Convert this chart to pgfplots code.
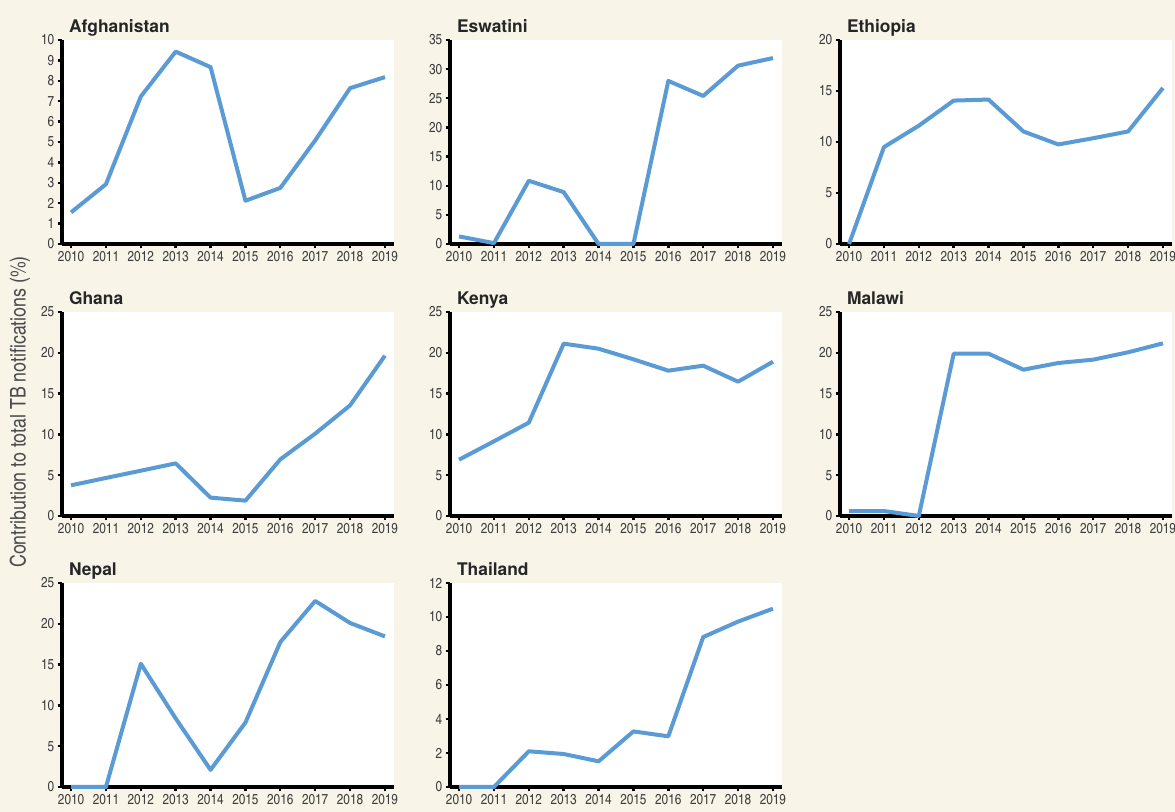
\documentclass[border=0pt]{standalone}
\usepackage{pgfplots}
\pgfplotsset{compat=1.18}
\usepackage{fontspec}
\setmainfont{TeX Gyre Heros}
\newfontfamily\cn{TeX Gyre Heros Cn}

\definecolor{bg}{HTML}{F8F4E8}
\definecolor{tbblue}{HTML}{5B9BD5}
\definecolor{tickgray}{HTML}{3C3C3C}

\pgfplotsset{
  panel/.style={
    scale only axis, width=166pt, height=102pt,
    anchor=north west,
    axis x line*=bottom, axis y line*=left,
    axis line style={line width=1.6pt, black},
    axis background/.style={fill=white},
    xmin=2009.74, xmax=2019.26, ymin=0,
    xtick={2010,...,2019},
    tick align=outside, major tick length=2.2pt,
    tick style={line width=1.2pt, black},
    ticklabel style={font=\cn\fontsize{7.2}{8}\selectfont, text=tickgray, inner sep=1.5pt},
    xticklabel style={/pgf/number format/1000 sep={}},
    /pgf/number format/assume math mode=true,
    title style={font=\bfseries\fontsize{8.7}{10}\selectfont, text=black!85,
      anchor=base west, at={(0,1)}, xshift=0pt, yshift=-2.5pt},
    clip=false,
  },
  tb/.style={line width=2pt, color=tbblue, line join=round, mark=none},
}

\begin{document}
\begin{tikzpicture}
\fill[bg] (0,0) rectangle (587.5pt,-406pt);

% row 1
\begin{axis}[panel, at={(31pt,-20pt)}, title=Afghanistan, ymax=10, ytick={0,...,10}]
\addplot[tb] coordinates {(2010,1.55) (2011,2.93) (2012,7.23) (2013,9.43) (2014,8.67) (2015,2.12) (2016,2.75) (2017,5.08) (2018,7.64) (2019,8.18)};
\end{axis}
\begin{axis}[panel, at={(225pt,-20pt)}, title=Eswatini, ymax=35, ytick={0,5,...,35}]
\addplot[tb] coordinates {(2010,1.3) (2011,0.15) (2012,10.85) (2013,8.9) (2014,0) (2015,0) (2016,27.98) (2017,25.4) (2018,30.6) (2019,31.9)};
\end{axis}
\begin{axis}[panel, at={(420pt,-20pt)}, title=Ethiopia, ymax=20, ytick={0,5,...,20}]
\addplot[tb] coordinates {(2010,0) (2011,9.5) (2012,11.6) (2013,14.06) (2014,14.16) (2015,11.03) (2016,9.76) (2017,10.37) (2018,11.03) (2019,15.3)};
\end{axis}

% row 2
\begin{axis}[panel, at={(31pt,-156pt)}, title=Ghana, ymax=25, ytick={0,5,...,25}]
\addplot[tb] coordinates {(2010,3.76) (2011,4.66) (2012,5.55) (2013,6.45) (2014,2.25) (2015,1.88) (2016,6.94) (2017,10.09) (2018,13.56) (2019,19.65)};
\end{axis}
\begin{axis}[panel, at={(225pt,-156pt)}, title=Kenya, ymax=25, ytick={0,5,...,25}]
\addplot[tb] coordinates {(2010,6.9) (2011,9.15) (2012,11.44) (2013,21.12) (2014,20.5) (2015,19.2) (2016,17.81) (2017,18.42) (2018,16.46) (2019,18.91)};
\end{axis}
\begin{axis}[panel, at={(420pt,-156pt)}, title=Malawi, ymax=25, ytick={0,5,...,25}]
\addplot[tb] coordinates {(2010,0.61) (2011,0.61) (2012,0) (2013,19.89) (2014,19.89) (2015,17.93) (2016,18.75) (2017,19.16) (2018,20.06) (2019,21.16)};
\end{axis}

% row 3
\begin{axis}[panel, at={(31pt,-291.5pt)}, title=Nepal, ymax=25, ytick={0,5,...,25}]
\addplot[tb] coordinates {(2010,0) (2011,0) (2012,15.1) (2013,8.4) (2014,2.1) (2015,7.9) (2016,17.76) (2017,22.8) (2018,20.1) (2019,18.45)};
\end{axis}
\begin{axis}[panel, at={(225pt,-291.5pt)}, title=Thailand, ymax=12, ytick={0,2,...,12}]
\addplot[tb] coordinates {(2010,0) (2011,0) (2012,2.1) (2013,1.94) (2014,1.51) (2015,3.27) (2016,2.98) (2017,8.82) (2018,9.73) (2019,10.49)};
\end{axis}

\node[rotate=90, font=\cn\fontsize{10.8}{12}\selectfont, text=black!70] at (10pt,-206pt)
  {Contribution to total TB notifications (\%)};

\pgfresetboundingbox
\path[use as bounding box] (0,0) rectangle (587.5pt,-406pt);
\end{tikzpicture}
\end{document}
